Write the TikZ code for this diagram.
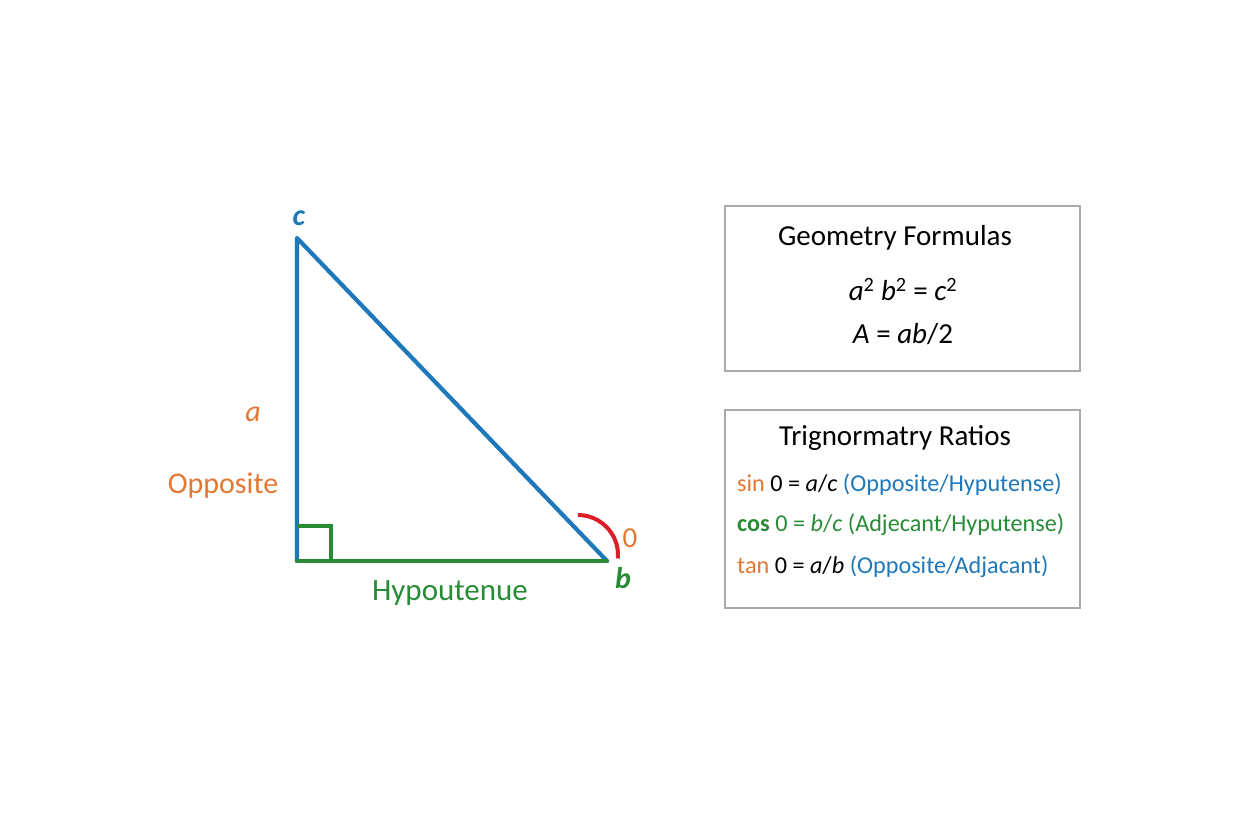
\documentclass[tikz,border=0pt]{standalone}
\usepackage{fontspec}
\setmainfont{Carlito}
\definecolor{tblue}{RGB}{30,120,185}
\definecolor{torange}{RGB}{228,120,50}
\definecolor{tgreen}{RGB}{40,140,55}
\definecolor{tred}{RGB}{220,30,40}
\definecolor{tgray}{RGB}{170,170,170}
\newcommand{\sqr}{\textsuperscript{\upshape 2}}
\tikzset{
  side/.style={line width=4.2pt, line cap=round, line join=round},
  fbox/.style={draw=tgray, line width=1.5pt},
  lbl/.style={inner sep=0pt, anchor=center},
  big/.style={font=\fontsize{30}{34}\selectfont},
  mid/.style={font=\fontsize{29}{33}\selectfont},
  small/.style={font=\fontsize{24.2}{28}\selectfont},
}
\begin{document}
\begin{tikzpicture}[x=1pt,y=1pt]
\useasboundingbox[fill=white] (0,0) rectangle (1248,832);
% triangle vertices
\coordinate (C) at (297,594);
\coordinate (R) at (297,271);
\coordinate (B) at (607,271);
\coordinate (S1) at (297,306);
\coordinate (S2) at (331,306);
\coordinate (S3) at (331,271);
\draw[side, draw=tblue] (R) -- (C) -- (B);
\draw[side, draw=tgreen] (R) -- (B);
\draw[line width=3.5pt, draw=tgreen] (S1) -- (S2) -- (S3);
\draw[line width=4pt, draw=tred] (578,317) arc[start angle=90, end angle=-5, radius=40];
% labels
\node[lbl, big, text=tblue] (lc) at (299,614) {\textbf{\textit{c}}};
\node[lbl, big, text=torange] (la) at (253,418) {\textit{a}};
\node[lbl, big, text=torange] (lopp) at (223,346) {Opposite};
\node[lbl, font=\fontsize{31}{35}\selectfont, text=tgreen] (lhyp) at (450,239) {Hypoutenue};
\node[lbl, mid, text=torange] (lth) at (630,294) {0};
\node[lbl, big, text=tgreen] (lb) at (623,254) {\textbf{\textit{b}}};
% formula box
\draw[fbox] (725,626) rectangle (1080,461);
\node[lbl, mid] (gt) at (895,594) {Geometry Formulas};
\node[lbl, mid] (f1) at (903,542) {\textit{a}\sqr{} \textit{b}\sqr{} = \textit{c}\sqr};
\node[lbl, mid] (f2) at (903,498) {\textit{A} = \textit{ab}/2};
% trig box
\draw[fbox] (725,422) rectangle (1080,224);
\node[lbl, mid] (tt) at (895,394) {Trignormatry Ratios};
\node[inner sep=0pt, anchor=west, small] (t1) at (737,347) {\textcolor{torange}{sin} 0 = \textit{a}/\textit{c} \textcolor{tblue}{(Opposite/Hyputense)}};
\node[inner sep=0pt, anchor=west, small, text=tgreen] (t2) at (737,307) {\textbf{cos} 0 = \textit{b}/\textit{c} (Adjecant/Hyputense)};
\node[inner sep=0pt, anchor=west, small] (t3) at (737,265) {\textcolor{torange}{tan} 0 = \textit{a}/\textit{b} \textcolor{tblue}{(Opposite/Adjacant)}};
\end{tikzpicture}
\end{document}
